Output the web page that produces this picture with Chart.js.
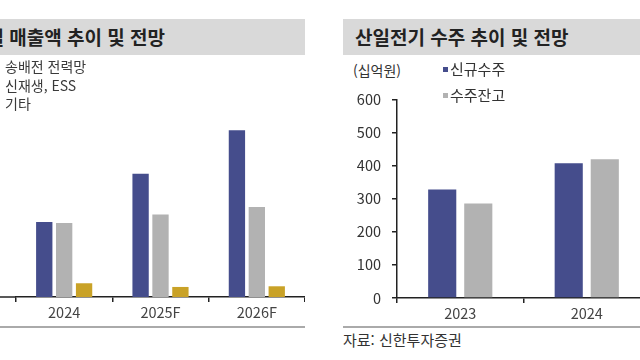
<!DOCTYPE html>
<html lang="ko">
<head>
<meta charset="utf-8">
<script src="https://cdn.jsdelivr.net/npm/chart.js@4.4.1/dist/chart.umd.min.js"></script>
<style>
  html, body { margin: 0; padding: 0; }
  body {
    width: 640px; height: 360px; overflow: hidden; position: relative; background: #fff;
    font-family: 'Noto Sans CJK KR', sans-serif; color: #333;
  }
  .titlebar { position: absolute; top: 19px; height: 36px; background: #d9d9d9; overflow: hidden; }
  .titlebar span {
    position: absolute; top: 50%; transform: translateY(-52%); white-space: nowrap;
    font-size: 19px; font-weight: bold; color: #222;
  }
  .box { position: absolute; }
  .legend-left { position: absolute; left: 5px; top: 57px; font-size: 14px; line-height: 18.5px; color: #3a3a3a; }
  .legend-right { position: absolute; left: 443px; top: 56px; font-size: 15px; line-height: 26px; color: #333; }
  .legend-right .mk { display: inline-block; width: 5px; height: 5px; margin-right: 2px; vertical-align: 3px; }
  .unit { position: absolute; left: 353px; top: 60px; font-size: 14px; color: #333; }
  .rule { position: absolute; top: 326px; height: 0; border-top: 2px solid #aaa; }
  .source { position: absolute; left: 343px; top: 329px; font-size: 15px; color: #333; }
</style>
</head>
<body>

<div class="titlebar" style="left:0;width:305px;"><span style="right:140px;">부문별 매출액 추이 및 전망</span></div>
<div class="titlebar" style="left:343px;width:297px;"><span style="left:12px;">산일전기 수주 추이 및 전망</span></div>

<div class="box" style="left:0;top:80px;width:305px;height:240px;"><canvas id="salesChart"></canvas></div>
<div class="box" style="left:340px;top:80px;width:310px;height:240px;"><canvas id="orderChart"></canvas></div>

<div class="legend-left" id="salesLegend"></div>
<div class="unit">(십억원)</div>
<div class="legend-right" id="orderLegend"></div>

<div class="rule" style="left:0;width:305px;"></div>
<div class="rule" style="left:343px;width:297px;"></div>
<div class="source">자료: 신한투자증권</div>

<script>
// 왼쪽: 부문별 매출액 (y축은 잘려서 안 보임)
const salesYears = ['2024', '2025F', '2026F'];
const salesNames = ['송배전 전력망', '신재생, ESS', '기타'];
const gridSales = [224, 368, 498];
const renewSales = [221, 246, 269];
const otherSales = [41, 30, 32];

// 오른쪽: 수주 추이
const orderYears = ['2023', '2024'];
const orderNames = ['신규수주', '수주잔고'];
const newOrders = [328, 408];
const backlog = [286, 420];
const orderTickStep = 100;
const orderMax = 600;

const colors = ['#454d8c', '#b2b2b2', '#c9a227'];

Chart.defaults.font.family = "'Noto Sans CJK KR', sans-serif";
Chart.defaults.color = '#333';
Chart.defaults.animation = false;

// 왼쪽 x축 선을 화면 왼쪽 끝까지 이어줌
const axisStub = {
  id: 'axisStub',
  afterDraw(chart) {
    const { ctx, chartArea } = chart;
    ctx.save();
    ctx.strokeStyle = '#222';
    ctx.lineWidth = 1.5;
    ctx.beginPath();
    ctx.moveTo(0, chartArea.bottom);
    ctx.lineTo(chartArea.left, chartArea.bottom);
    ctx.stroke();
    ctx.restore();
  }
};

function xAxis(height) {
  return {
    offset: true,
    afterFit: scale => { scale.height = height; },
    grid: { offset: true, drawOnChartArea: false, drawTicks: true, tickLength: 5, tickColor: '#222', lineWidth: 1.5 },
    border: { display: true, color: '#222', width: 1.5 },
    ticks: { padding: 2, font: { size: 14.5 }, color: '#444' }
  };
}

new Chart(document.getElementById('salesChart'), {
  type: 'bar',
  data: {
    labels: salesYears,
    datasets: [gridSales, renewSales, otherSales].map((d, i) => ({
      label: salesNames[i],
      data: d,
      backgroundColor: colors[i],
      categoryPercentage: 0.62,
      barPercentage: 0.82
    }))
  },
  options: {
    responsive: true,
    maintainAspectRatio: false,
    layout: { padding: { left: 16, top: 16, right: 0, bottom: 0 } },
    plugins: { legend: { display: false }, tooltip: { enabled: false } },
    scales: {
      x: xAxis(23),
      y: { display: false, min: 0, max: orderMax }
    }
  },
  plugins: [axisStub]
});

new Chart(document.getElementById('orderChart'), {
  type: 'bar',
  data: {
    labels: orderYears,
    datasets: [newOrders, backlog].map((d, i) => ({
      label: orderNames[i],
      data: d,
      backgroundColor: colors[i],
      categoryPercentage: 0.57,
      barPercentage: 0.78
    }))
  },
  options: {
    responsive: true,
    maintainAspectRatio: false,
    layout: { padding: { left: 0, top: 16, right: 0, bottom: 0 } },
    plugins: { legend: { display: false }, tooltip: { enabled: false } },
    scales: {
      x: xAxis(22),
      y: {
        min: 0,
        max: orderMax,
        afterFit: scale => { scale.width = 57; },
        grid: { drawOnChartArea: false, drawTicks: true, tickLength: 5, tickColor: '#222', lineWidth: 1.5 },
        border: { display: true, color: '#222', width: 1.5 },
        ticks: { stepSize: orderTickStep, padding: 11, font: { size: 14.5 }, color: '#333' }
      }
    }
  }
});

// 범례 (HTML)
document.getElementById('salesLegend').innerHTML = salesNames.map(n => `<div>${n}</div>`).join('');
document.getElementById('orderLegend').innerHTML = orderNames
  .map((n, i) => `<div><span class="mk" style="background:${colors[i]}"></span>${n}</div>`).join('');
</script>
</body>
</html>
